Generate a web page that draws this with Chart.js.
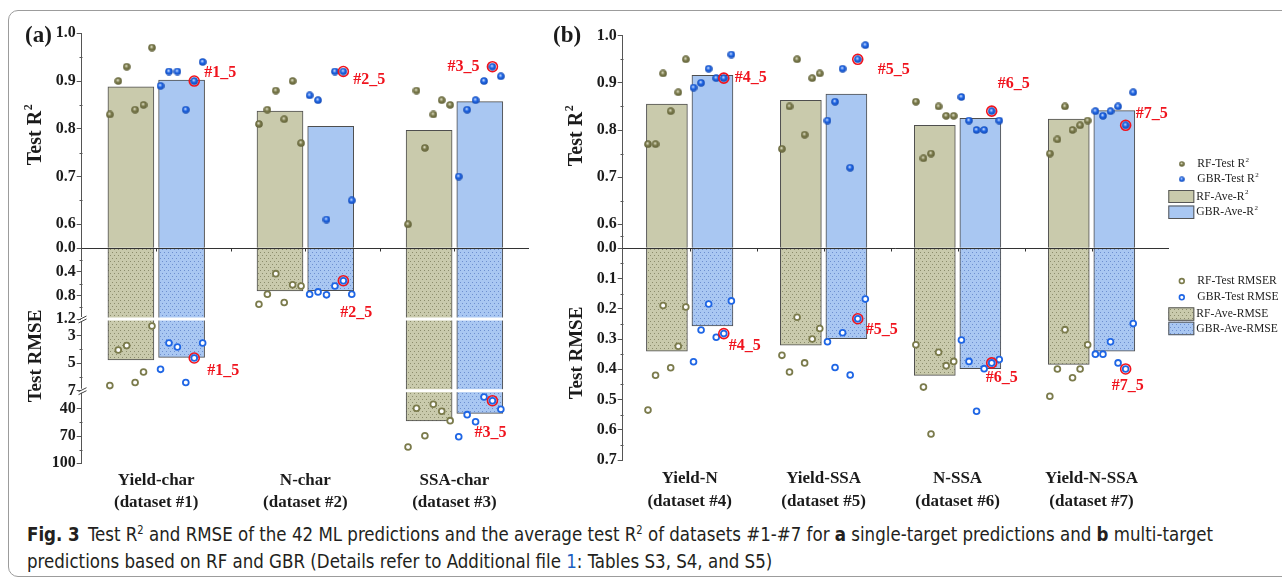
<!DOCTYPE html>
<html>
<head>
<meta charset="utf-8">
<script src="https://cdn.jsdelivr.net/npm/chart.js@4.4.1/dist/chart.umd.min.js"></script>
<style>
  html, body { margin: 0; padding: 0; background: #fff; overflow: hidden; }
  body { width: 1282px; height: 578px; position: relative; }
  #frame { position: absolute; left: 8px; top: 10px; width: 1300px; height: 565px; border: 1px solid #9c9c9c; border-radius: 10px; }
  canvas { position: absolute; top: 0; }
  #panelA { left: 0; }
  #panelB { left: 540px; }
  .cap { position: absolute; left: 27px; white-space: nowrap; font-family: "Liberation Sans Narrow", "DejaVu Sans Condensed", "Noto Sans", sans-serif; font-size: 19px; line-height: 24px; color: #231f20; transform-origin: 0 50%; }
  .cap sup { font-size: 0.6em; line-height: 0; vertical-align: 0.6em; }
  .cap .ref { color: #1d5fbf; }
  #cap1 { top: 522px; }
  #cap2 { top: 549px; }
</style>
</head>
<body>
<div id="frame"></div>
<canvas id="panelA" width="540" height="520"></canvas>
<canvas id="panelB" width="742" height="520"></canvas>
<div class="cap" id="cap1"><b>Fig. 3</b>&ensp;Test R<sup>2</sup> and RMSE of the 42 ML predictions and the average test R<sup>2</sup> of datasets #1-#7 for <b>a</b> single-target predictions and <b>b</b> multi-target</div>
<div class="cap" id="cap2">predictions based on RF and GBR (Details refer to Additional file <span class="ref">1</span>: Tables S3, S4, and S5)</div>
<script>
const SERIF = '"Liberation Serif", "Times New Roman", serif';
const HIGHLIGHT = 4;   // split #5 is circled in every dataset

// ---- (a) single-target datasets ----
const labelsA = [['Yield-char', '(dataset #1)'], ['N-char', '(dataset #2)'], ['SSA-char', '(dataset #3)']];
const rfR2A = [
  [0.83, 0.90, 0.93, 0.84, 0.85, 0.97],
  [0.81, 0.84, 0.88, 0.82, 0.90, 0.77],
  [0.60, 0.88, 0.76, 0.83, 0.86, 0.85]
];
const gbrR2A = [
  [0.89, 0.92, 0.92, 0.84, 0.90, 0.94],
  [0.87, 0.86, 0.61, 0.92, 0.92, 0.65],
  [0.70, 0.84, 0.86, 0.90, 0.93, 0.91]
];
const rfR2AveA = [0.888, 0.837, 0.797];
const gbrR2AveA = [0.902, 0.805, 0.857];
const rfRmseA = [
  [6.63, 4.05, 3.73, 6.41, 5.64, 2.31],
  [0.95, 0.78, 0.43, 0.92, 0.62, 0.64],
  [82, 39.4, 69.6, 35, 42.7, 53]
];
const gbrRmseA = [
  [5.45, 3.54, 3.83, 6.41, 4.63, 3.54],
  [0.78, 0.74, 0.79, 0.64, 0.55, 0.78],
  [70.7, 46.4, 54.2, 26.9, 31.0, 40.5]
];
const rfRmseAveA = [4.77, 0.725, 53.4];
const gbrRmseAveA = [4.58, 0.72, 44.9];
const r2TicksA = [0, 0.6, 0.7, 0.8, 0.9, 1.0];
const rmseTicksA = [0.4, 0.8, 1.2, 3, 5, 7, 40, 70, 100];
const rmseTickTextA = ['0.4', '0.8', '1.2', '3', '5', '7', '40', '70', '100'];

// ---- (b) multi-target datasets ----
const labelsB = [['Yield-N', '(dataset #4)'], ['Yield-SSA', '(dataset #5)'], ['N-SSA', '(dataset #6)'], ['Yield-N-SSA', '(dataset #7)']];
const rfR2B = [
  [0.77, 0.77, 0.92, 0.84, 0.88, 0.95],
  [0.76, 0.85, 0.95, 0.79, 0.91, 0.92],
  [0.86, 0.74, 0.75, 0.85, 0.83, 0.83],
  [0.75, 0.78, 0.85, 0.80, 0.81, 0.82]
];
const gbrR2B = [
  [0.89, 0.90, 0.93, 0.91, 0.91, 0.96],
  [0.82, 0.86, 0.93, 0.72, 0.95, 0.98],
  [0.87, 0.82, 0.80, 0.80, 0.84, 0.82],
  [0.84, 0.83, 0.84, 0.85, 0.81, 0.88]
];
const rfR2AveB = [0.855, 0.863, 0.810, 0.823];
const gbrR2AveB = [0.916, 0.876, 0.825, 0.841];
const rfRmseB = [
  [0.535, 0.420, 0.189, 0.395, 0.324, 0.194],
  [0.354, 0.409, 0.228, 0.379, 0.300, 0.265],
  [0.319, 0.459, 0.614, 0.344, 0.388, 0.374],
  [0.489, 0.399, 0.269, 0.428, 0.399, 0.319]
];
const gbrRmseB = [
  [0.375, 0.270, 0.184, 0.294, 0.282, 0.174],
  [0.309, 0.394, 0.279, 0.419, 0.233, 0.168],
  [0.303, 0.374, 0.539, 0.398, 0.379, 0.368],
  [0.350, 0.350, 0.309, 0.379, 0.399, 0.249]
];
const rfRmseAveB = [0.340, 0.320, 0.420, 0.384];
const gbrRmseAveB = [0.257, 0.299, 0.398, 0.340];
const r2TicksB = [0, 0.6, 0.7, 0.8, 0.9, 1.0];
const rmseTicksB = [0.1, 0.2, 0.3, 0.4, 0.5, 0.6, 0.7];
const rmseTickTextB = ['0.1', '0.2', '0.3', '0.4', '0.5', '0.6', '0.7'];

const INK = '#1b1b1b';
const AXIS = '#555';
const BORDER = '#4e4e4e';
const RF_FILL = '#c9caac';
const GBR_FILL = '#a9c7f2';
const RF_DOT = '#7b7b4c';
const GBR_DOT = '#1f66e5';
const TAG_RED = '#f0141e';

// piecewise-linear map from data value to distance (px) from the 0 line
function piecewise(stops) {
  return v => {
    if (v <= stops[0][0]) return stops[0][1];
    for (let i = 1; i < stops.length; i++) {
      const [v0, p0] = stops[i - 1], [v1, p1] = stops[i];
      if (v <= v1) return p0 + (v - v0) / (v1 - v0) * (p1 - p0);
    }
    return stops[stops.length - 1][1];
  };
}

function ball(base, light, dark, size) {
  const c = document.createElement('canvas');
  c.width = c.height = size;
  const g = c.getContext('2d');
  const r = size / 2;
  const grad = g.createRadialGradient(r * 0.85, r * 0.75, r * 0.05, r, r, r);
  grad.addColorStop(0, light);
  grad.addColorStop(0.45, base);
  grad.addColorStop(1, dark);
  g.fillStyle = grad;
  g.beginPath();
  g.arc(r, r, r - 0.2, 0, Math.PI * 2);
  g.fill();
  return c;
}

function dotPattern(ctx, base, dot) {
  const c = document.createElement('canvas');
  c.width = 4; c.height = 6;
  const g = c.getContext('2d');
  g.fillStyle = base; g.fillRect(0, 0, 4, 6);
  g.fillStyle = dot; g.fillRect(0, 0, 1, 1); g.fillRect(2, 3, 1, 1);
  return ctx.createPattern(c, 'repeat');
}

const BALL_RF = ball(RF_DOT, '#e4e4cc', '#5e5e36', 8);
const BALL_GBR = ball(GBR_DOT, '#cfe0ff', '#1247b0', 8);
const BALL_RF_SMALL = ball(RF_DOT, '#e4e4cc', '#5e5e36', 6);
const BALL_GBR_SMALL = ball(GBR_DOT, '#cfe0ff', '#1247b0', 6);

// model bars sit either side of the category centre (side -1 = RF, +1 = GBR)
const BAR_SHIFT = 0.17;
const barX = (ci, side) => ci + side * BAR_SHIFT;
// x position of split j inside its model's bar
const dotX = (ci, side, j) => barX(ci, side) + (j - 2.5) * 0.0565;

function drawSup(ctx, x, y, main, sup, size, weight, align) {
  const supSize = Math.round(size * 0.6);
  ctx.font = `${weight} ${size}px ${SERIF}`;
  const w1 = ctx.measureText(main).width;
  ctx.font = `${weight} ${supSize}px ${SERIF}`;
  const w2 = ctx.measureText(sup).width;
  const x0 = align === 'center' ? x - (w1 + w2) / 2 : x;
  ctx.textAlign = 'left';
  ctx.textBaseline = 'middle';
  ctx.font = `${weight} ${size}px ${SERIF}`;
  ctx.fillText(main, x0, y);
  ctx.font = `${weight} ${supSize}px ${SERIF}`;
  ctx.fillText(sup, x0 + w1 + 0.5, y - size * 0.36);
}

function makeDecor(p, up, down) {
  const n = p.labels.length;
  return {
    id: 'decor',
    beforeDatasetsDraw(chart) { chart.$overlayDone = false; },
    // zero line, tick marks on it and the axis-break gaps go above the bars, below the dots
    beforeDatasetDraw(chart, args) {
      if (chart.$overlayDone || args.meta.type !== 'scatter') return;
      chart.$overlayDone = true;
      const ctx = chart.ctx, area = chart.chartArea, ys = chart.scales.y, xs = chart.scales.xs;
      ctx.save();
      ctx.fillStyle = '#fff';
      p.breaks.forEach(b => {
        const py = ys.getPixelForValue(-down(b));
        ctx.fillRect(area.left + 1, py - 1.5, area.right - area.left, 3);
      });
      const y0 = Math.round(ys.getPixelForValue(0)) + 0.5;
      ctx.strokeStyle = '#333';
      ctx.lineWidth = 1;
      ctx.beginPath();
      ctx.moveTo(area.left, y0);
      ctx.lineTo(area.right + p.baseExtra, y0);
      for (let i = 0; i < n; i++) {
        const cx = Math.round(xs.getPixelForValue(i)) + 0.5;
        ctx.moveTo(cx, y0); ctx.lineTo(cx, y0 + 3);
        if (i < n - 1) {
          const bx = Math.round(xs.getPixelForValue(i + 0.5)) + 0.5;
          ctx.moveTo(bx, y0); ctx.lineTo(bx, y0 + 3);
        }
      }
      ctx.stroke();
      ctx.restore();
    },
    afterDraw(chart) {
      const ctx = chart.ctx, area = chart.chartArea, ys = chart.scales.y, xs = chart.scales.xs;
      const ax = Math.round(area.left) + 0.5;
      ctx.save();
      // minor ticks
      ctx.strokeStyle = AXIS;
      ctx.lineWidth = 1;
      ctx.beginPath();
      p.minorR2.map(up).concat(p.minorRmse.map(v => -down(v))).forEach(v => {
        const py = Math.round(ys.getPixelForValue(v)) + 0.5;
        ctx.moveTo(ax - 3, py); ctx.lineTo(ax, py);
      });
      ctx.stroke();
      // axis breaks
      p.breaks.forEach(b => {
        const py = ys.getPixelForValue(-down(b));
        ctx.fillStyle = '#fff';
        ctx.fillRect(ax - 1.5, py - 2, 3, 4);
        ctx.strokeStyle = '#444';
        ctx.beginPath();
        ctx.moveTo(ax - 4, py + 1); ctx.lineTo(ax + 4, py - 3);
        ctx.moveTo(ax - 4, py + 4); ctx.lineTo(ax + 4, py);
        ctx.stroke();
      });
      // axis titles and panel letter
      ctx.fillStyle = INK;
      ctx.save();
      ctx.translate(p.titleX, p.r2TitleY);
      ctx.rotate(-Math.PI / 2);
      drawSup(ctx, 0, 0, 'Test R', '2', 20, 'bold', 'center');
      ctx.restore();
      ctx.save();
      ctx.translate(p.titleX, p.rmseTitleY);
      ctx.rotate(-Math.PI / 2);
      ctx.font = `bold 19px ${SERIF}`;
      ctx.textAlign = 'center';
      ctx.textBaseline = 'middle';
      ctx.fillText('Test RMSE', 0, 0);
      ctx.restore();
      ctx.font = `bold 23px ${SERIF}`;
      ctx.textAlign = 'left';
      ctx.textBaseline = 'middle';
      ctx.fillText(p.letter, p.letterX, 36);
      // red tags beside the circled split of each dataset
      ctx.fillStyle = TAG_RED;
      ctx.font = `bold 16px ${SERIF}`;
      for (let ci = 0; ci < n; ci++) {
        const tag = `#${p.firstNo + ci}_${HIGHLIGHT + 1}`;
        const gx = xs.getPixelForValue(dotX(ci, 1, HIGHLIGHT));
        const yR2 = ys.getPixelForValue(up(p.gbrR2[ci][HIGHLIGHT]));
        const yRm = ys.getPixelForValue(-down(p.gbrRmse[ci][HIGHLIGHT]));
        ctx.fillText(tag, gx + p.tagR2[ci][0], yR2 + p.tagR2[ci][1]);
        ctx.fillText(tag, gx + p.tagRmse[ci][0], yRm + p.tagRmse[ci][1]);
      }
      if (p.legend) drawLegend(ctx, p.legend);
      ctx.restore();
    }
  };
}

function drawLegend(ctx, L) {
  const bx = L.x, tx = L.x + 29, cx = L.x + 13.5, fs = 11.6;
  ctx.fillStyle = '#222';
  ctx.drawImage(BALL_RF_SMALL, cx - 3, 164 - 3);
  ctx.drawImage(BALL_GBR_SMALL, cx - 3, 179.3 - 3);
  drawSup(ctx, tx, 164, 'RF-Test R', '2', fs, 'normal', 'left');
  drawSup(ctx, tx, 179.3, 'GBR-Test R', '2', fs, 'normal', 'left');
  const box = (y, h, fill) => {
    ctx.fillStyle = fill;
    ctx.fillRect(bx, y, 26, h);
    ctx.strokeStyle = '#555';
    ctx.lineWidth = 1;
    ctx.strokeRect(bx + 0.5, y + 0.5, 25, h - 1);
  };
  box(190, 13, RF_FILL);
  box(205.5, 13.5, GBR_FILL);
  ctx.fillStyle = '#222';
  drawSup(ctx, tx - 1, 196.5, 'RF-Ave-R', '2', fs, 'normal', 'left');
  drawSup(ctx, tx - 1, 212, 'GBR-Ave-R', '2', fs, 'normal', 'left');
  ctx.lineWidth = 1.6;
  [[281, RF_DOT], [297.3, GBR_DOT]].forEach(([y, c]) => {
    ctx.beginPath();
    ctx.arc(cx, y, 2.4, 0, Math.PI * 2);
    ctx.fillStyle = '#fff'; ctx.fill();
    ctx.strokeStyle = c; ctx.stroke();
  });
  box(307.3, 13.5, L.patRF);
  box(321.7, 13.5, L.patGBR);
  ctx.fillStyle = '#222';
  ctx.font = `${fs}px ${SERIF}`;
  ctx.textAlign = 'left';
  ctx.textBaseline = 'middle';
  ctx.fillText('RF-Test RMSER', tx, 281);
  ctx.fillText('GBR-Test RMSE', tx, 297.3);
  ctx.fillText('RF-Ave-RMSE', tx - 1, 313.5);
  ctx.fillText('GBR-Ave-RMSE', tx - 1, 329);
}

function buildPanel(id, p) {
  const ctx = document.getElementById(id).getContext('2d');
  const up = piecewise(p.r2Stops);
  const down = piecewise(p.rmseStops);
  const toR2 = v => up(v);
  const toRmse = v => -down(v);
  const n = p.labels.length;
  const patRF = dotPattern(ctx, RF_FILL, '#8c8d6c');
  const patGBR = dotPattern(ctx, GBR_FILL, '#6d8fd0');
  if (p.legend) { p.legend.patRF = patRF; p.legend.patGBR = patGBR; }

  const dots = (sets, side, f) => sets.flatMap((vals, ci) => vals.map((v, j) => ({x: dotX(ci, side, j), y: f(v)})));
  const bars = (vals, side, f) => vals.map((v, ci) => ({x: barX(ci, side), y: f(v)}));
  const rings = p.gbrR2.map((vals, ci) => ({x: dotX(ci, 1, HIGHLIGHT), y: toR2(vals[HIGHLIGHT])}))
    .concat(p.gbrRmse.map((vals, ci) => ({x: dotX(ci, 1, HIGHLIGHT), y: toRmse(vals[HIGHLIGHT])})));

  const ticks = p.r2Ticks.map(v => ({value: toR2(v), label: v.toFixed(1)}))
    .concat(p.rmseTicks.map((v, i) => ({value: toRmse(v), label: p.rmseTickText[i]})))
    .sort((a, b) => a.value - b.value);

  const barStyle = {type: 'bar', xAxisID: 'xs', grouped: false, barThickness: p.barWidth, borderColor: BORDER, borderWidth: 1};
  const hollow = {type: 'scatter', xAxisID: 'xs', clip: false, pointStyle: 'circle', pointRadius: 2.9, borderWidth: 1.8, backgroundColor: '#fff'};

  return new Chart(ctx, {
    type: 'bar',
    data: {
      labels: p.labels,
      datasets: [
        {type: 'scatter', label: 'highlight', data: rings, xAxisID: 'xs', clip: false, pointStyle: 'circle', pointRadius: 5, borderWidth: 1.6, borderColor: TAG_RED, backgroundColor: 'rgba(0,0,0,0)'},
        {type: 'scatter', label: 'RF-Test R2', data: dots(p.rfR2, -1, toR2), xAxisID: 'xs', clip: false, pointStyle: BALL_RF},
        {type: 'scatter', label: 'GBR-Test R2', data: dots(p.gbrR2, 1, toR2), xAxisID: 'xs', clip: false, pointStyle: BALL_GBR},
        {...hollow, label: 'RF-Test RMSE', data: dots(p.rfRmse, -1, toRmse), borderColor: RF_DOT},
        {...hollow, label: 'GBR-Test RMSE', data: dots(p.gbrRmse, 1, toRmse), borderColor: GBR_DOT},
        {...barStyle, label: 'RF-Ave-R2', data: bars(p.rfR2Ave, -1, toR2), backgroundColor: RF_FILL},
        {...barStyle, label: 'GBR-Ave-R2', data: bars(p.gbrR2Ave, 1, toR2), backgroundColor: GBR_FILL},
        {...barStyle, label: 'RF-Ave-RMSE', data: bars(p.rfRmseAve, -1, toRmse), backgroundColor: patRF},
        {...barStyle, label: 'GBR-Ave-RMSE', data: bars(p.gbrRmseAve, 1, toRmse), backgroundColor: patGBR}
      ]
    },
    options: {
      responsive: false,
      animation: false,
      events: [],
      devicePixelRatio: 1,
      layout: {padding: p.padding},
      plugins: {legend: {display: false}, tooltip: {enabled: false}},
      scales: {
        // category axis only carries the dataset names
        x: {
          type: 'category',
          offset: true,
          grid: {display: false, drawTicks: false},
          border: {display: false},
          ticks: {
            color: INK, padding: p.xLabelPad, maxRotation: 0, autoSkip: false,
            font: {family: SERIF, size: 17, weight: 'bold', lineHeight: 1.3}
          },
          afterFit: s => { s.height = p.xAxisHeight; }
        },
        // same span as the category axis, in category units
        xs: {type: 'linear', display: false, offset: false, min: -0.5, max: n - 0.5},
        y: {
          type: 'linear',
          stacked: false,
          min: toRmse(p.rmseTicks[p.rmseTicks.length - 1]),
          max: toR2(1),
          afterBuildTicks: s => { s.ticks = ticks.map(t => ({value: t.value})); },
          afterFit: s => { s.width = p.yAxisWidth; },
          ticks: {
            autoSkip: false, padding: 1, color: INK,
            font: {family: SERIF, size: 16, weight: 'bold'},
            callback: (v, i) => ticks[i].label
          },
          grid: {drawOnChartArea: false, drawTicks: true, tickLength: 5, color: AXIS},
          border: {display: true, color: AXIS, width: 1}
        }
      }
    },
    plugins: [makeDecor(p, up, down)]
  });
}

buildPanel('panelA', {
  labels: labelsA, firstNo: 1, letter: '(a)', letterX: 25,
  rfR2: rfR2A, gbrR2: gbrR2A, rfR2Ave: rfR2AveA, gbrR2Ave: gbrR2AveA,
  rfRmse: rfRmseA, gbrRmse: gbrRmseA, rfRmseAve: rfRmseAveA, gbrRmseAve: gbrRmseAveA,
  r2Ticks: r2TicksA, rmseTicks: rmseTicksA, rmseTickText: rmseTickTextA,
  r2Stops: [[0, 0], [0.6, 24], [1, 215]],
  rmseStops: [[0, 0], [1.2, 70.7], [1.8, 70.7], [7, 142.4], [20, 142.4], [100, 215]],
  breaks: [1.2, 7],
  minorR2: [0.65, 0.75, 0.85, 0.95],
  minorRmse: [0.2, 0.6, 1.0, 4, 6, 55, 85],
  padding: {left: 0, right: 11, top: 33.3, bottom: 0},
  yAxisWidth: 81.7, xAxisHeight: 56.7, xLabelPad: 6, baseExtra: 0, barWidth: 46,
  titleX: 36, r2TitleY: 135, rmseTitleY: 356,
  tagR2: [[10, -8], [10, 8], [-45, 0]],
  tagRmse: [[13, 13], [-3, 32], [-18, 32]]
});

buildPanel('panelB', {
  labels: labelsB, firstNo: 4, letter: '(b)', letterX: 13,
  rfR2: rfR2B, gbrR2: gbrR2B, rfR2Ave: rfR2AveB, gbrR2Ave: gbrR2AveB,
  rfRmse: rfRmseB, gbrRmse: gbrRmseB, rfRmseAve: rfRmseAveB, gbrRmseAve: gbrRmseAveB,
  r2Ticks: r2TicksB, rmseTicks: rmseTicksB, rmseTickText: rmseTickTextB,
  r2Stops: [[0, 0], [0.6, 24], [1, 212.6]],
  rmseStops: [[0, 0], [0.7, 211.7]],
  breaks: [],
  minorR2: [0.3, 0.65, 0.75, 0.85, 0.95],
  minorRmse: [0.05, 0.15, 0.25, 0.35, 0.45, 0.55, 0.65],
  padding: {left: 0, right: 123.5, top: 35.7, bottom: 0},
  yAxisWidth: 82.7, xAxisHeight: 60, xLabelPad: 8, baseExtra: 10.5, barWidth: 41,
  titleX: 37, r2TitleY: 136, rmseTitleY: 353,
  tagR2: [[11, 0], [20, 11], [6, -27], [10, -11]],
  tagRmse: [[5, 12], [8, 11], [-6, 15], [-14, 17]],
  legend: {x: 628.3}
});

// caption lines are set in a narrow face; stretch them to the figure width
function fitCaption() {
  const c1 = document.getElementById('cap1');
  const c2 = document.getElementById('cap2');
  c1.style.transform = c2.style.transform = '';
  const k = 1186 / c1.getBoundingClientRect().width;
  c1.style.transform = c2.style.transform = `scaleX(${k})`;
}
fitCaption();
if (document.fonts) document.fonts.ready.then(fitCaption);
</script>
</body>
</html>
